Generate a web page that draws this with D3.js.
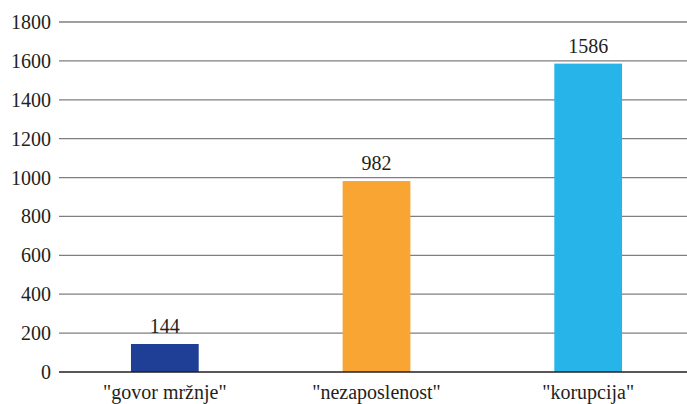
<!DOCTYPE html>
<html>
<head>
<meta charset="utf-8">
<script src="https://cdn.jsdelivr.net/npm/d3@7"></script>
<style>
  html, body { margin: 0; padding: 0; background: #fff; }
  #wrap { position: relative; width: 687px; height: 404px; overflow: hidden; }
  svg { display: block; position: absolute; left: 0; top: 0; }
  .lbl { position: absolute; font-family: 'Liberation Serif', serif; font-size: 20px;
         line-height: 20px; color: #231f20; white-space: nowrap; }
</style>
</head>
<body>
<div id="wrap"><svg id="chart" width="687" height="404"></svg></div>
<script>
const categories = ['"govor mržnje"', '"nezaposlenost"', '"korupcija"'];
const values = [144, 982, 1586];
const colors = ["#1f3f96", "#f9a533", "#27b5e9"];
const yTicks = [0, 200, 400, 600, 800, 1000, 1200, 1400, 1600, 1800];

const INK = "#231f20";
const wrap = d3.select("#wrap");
const svg = d3.select("#chart");
const plotLeft = 59, plotRight = 694, plotTop = 22, plotBottom = 372;

const x = d3.scaleBand().domain(categories).range([plotLeft, plotRight]).paddingInner(0.68).paddingOuter(0.34);
const y = d3.scaleLinear().domain([0, 1800]).range([plotBottom, plotTop]);

// horizontal gridlines
svg.append("g").selectAll("line").data(yTicks.filter(d => d > 0)).join("line")
  .attr("x1", plotLeft).attr("x2", plotRight)
  .attr("y1", d => y(d)).attr("y2", d => y(d))
  .attr("stroke", "#7f7f7f").attr("stroke-width", 1.3);

// bars
svg.append("g").selectAll("rect").data(values).join("rect")
  .attr("x", (d, i) => x(categories[i]))
  .attr("width", x.bandwidth())
  .attr("y", d => y(d))
  .attr("height", d => y(0) - y(d))
  .attr("fill", (d, i) => colors[i]);

// baseline
svg.append("line").attr("x1", plotLeft).attr("x2", plotRight)
  .attr("y1", y(0)).attr("y2", y(0))
  .attr("stroke", INK).attr("stroke-width", 1.6);

// text labels as positioned html; (cx, cy) is the label's centre point
function label(sel, data, fx, fy, anchor) {
  return wrap.selectAll(sel).data(data).join("div")
    .attr("class", "lbl")
    .style("left", d => fx(d) + "px")
    .style("top", d => (fy(d) - 10) + "px")
    .style("transform", anchor === "end" ? "translateX(-100%)" : "translateX(-50%)")
    .text(d => d);
}

// y tick labels
label("div.ytick", yTicks, () => 51, d => y(d), "end").classed("ytick", true);

// value labels above bars
label("div.val", values, (d) => x(categories[values.indexOf(d)]) + x.bandwidth() / 2,
      d => y(d) - 18, "middle").classed("val", true);

// category labels
label("div.cat", categories, d => x(d) + x.bandwidth() / 2, () => 392, "middle").classed("cat", true);
</script>
</body>
</html>
